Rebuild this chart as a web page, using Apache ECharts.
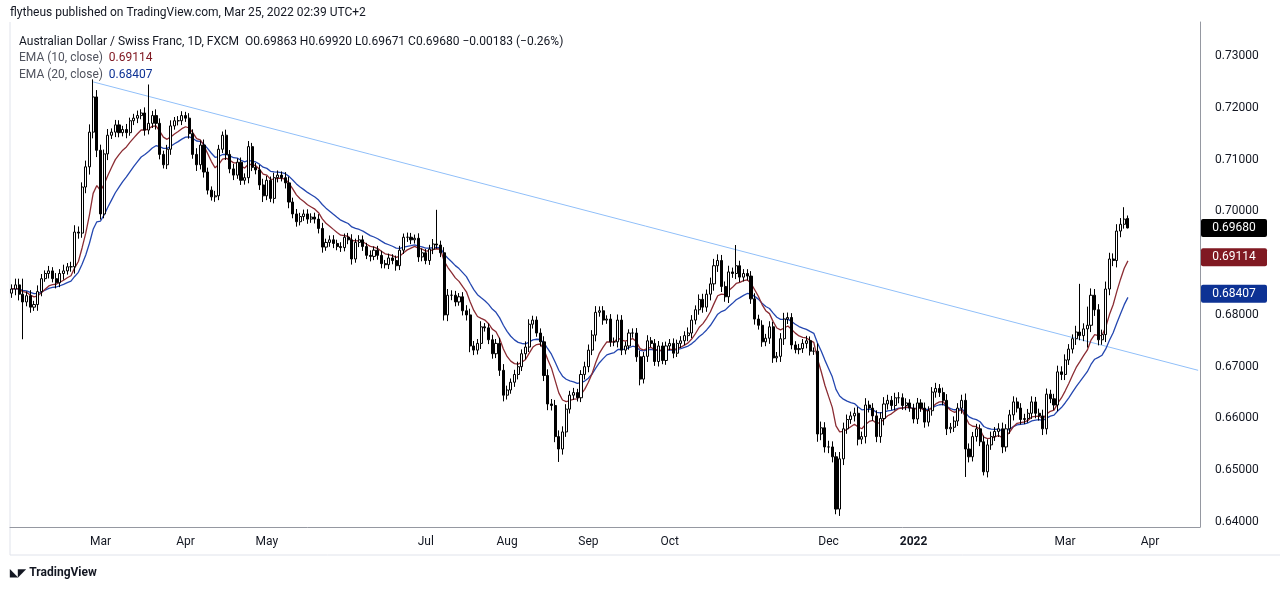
<!DOCTYPE html>
<html><head><meta charset="utf-8">
<script src="https://cdn.jsdelivr.net/npm/echarts@6/dist/echarts.min.js"></script>
<style>html,body{margin:0;padding:0;background:#fff}#c{width:1280px;height:590px}</style>
</head><body><div id="c"></div>
<script>
// ---- data ----
const cJan21=[0.6850,0.6858,0.6840,0.6825];
const cFeb21=[0.6837,0.6815,0.6820,0.6845,0.6870,0.6880,0.6885,0.6870,0.6862,0.6880,0.6885,0.6893,0.6893,0.6960,0.6958,0.7047,0.7086,0.7153,0.7221,0.7118];
const cMar21=[0.6995,0.7111,0.7147,0.7153,0.7167,0.7152,0.7158,0.7152,0.7175,0.7180,0.7185,0.7190,0.7157,0.7170,0.7185,0.7170,0.7110,0.7090,0.7120,0.7165,0.7175,0.7175,0.7185];
const cApr21=[0.7180,0.7150,0.7110,0.7090,0.7128,0.7076,0.7041,0.7028,0.7030,0.7120,0.7147,0.7110,0.7082,0.7070,0.7095,0.7060,0.7065,0.7125,0.7085,0.7080,0.7051,0.7030];
const cMay21=[0.7060,0.7025,0.7065,0.7070,0.7065,0.7055,0.7018,0.6995,0.6980,0.6990,0.6995,0.6985,0.6989,0.6985,0.6967,0.6931,0.6940,0.6945,0.6938,0.6932,0.6930];
const cJun21=[0.6950,0.6945,0.6908,0.6940,0.6945,0.6932,0.6915,0.6913,0.6925,0.6915,0.6899,0.6897,0.6910,0.6905,0.6895,0.6925,0.6950,0.6950,0.6945,0.6948,0.6912,0.6920];
const cJul21=[0.6905,0.6927,0.6937,0.6935,0.6920,0.6800,0.6838,0.6838,0.6825,0.6835,0.6808,0.6800,0.6740,0.6732,0.6745,0.6777,0.6775,0.6752,0.6725,0.6745,0.6693,0.6645];
const cAug21=[0.6655,0.6670,0.6685,0.6700,0.6725,0.6738,0.6782,0.6790,0.6765,0.6748,0.6683,0.6628,0.6625,0.6565,0.6541,0.6574,0.6618,0.6645,0.6650,0.6640,0.6685,0.6700];
const cSep21=[0.6732,0.6761,0.6805,0.6808,0.6790,0.6792,0.6748,0.6748,0.6790,0.6732,0.6740,0.6765,0.6765,0.6719,0.6676,0.6720,0.6750,0.6745,0.6710,0.6740,0.6712,0.6740];
const cOct21=[0.6745,0.6726,0.6745,0.6750,0.6760,0.6765,0.6790,0.6810,0.6830,0.6815,0.6840,0.6860,0.6895,0.6905,0.6855,0.6835,0.6883,0.6880,0.6895,0.6873,0.6880];
const cNov21=[0.6875,0.6831,0.6792,0.6780,0.6748,0.6755,0.6777,0.6717,0.6720,0.6754,0.6792,0.6795,0.6742,0.6733,0.6735,0.6745,0.6750,0.6730,0.6730,0.6570,0.6582,0.6545];
const cDec21=[0.6545,0.6526,0.6425,0.6522,0.6580,0.6598,0.6605,0.6610,0.6560,0.6565,0.6626,0.6620,0.6605,0.6565,0.6600,0.6628,0.6635,0.6625,0.6640,0.6640,0.6625,0.6630,0.6620];
const cJan22=[0.6599,0.6630,0.6620,0.6593,0.6615,0.6651,0.6658,0.6650,0.6635,0.6580,0.6583,0.6595,0.6620,0.6635,0.6541,0.6526,0.6565,0.6580,0.6555,0.6497,0.6549];
const cFeb22=[0.6565,0.6575,0.6580,0.6545,0.6580,0.6607,0.6632,0.6620,0.6598,0.6600,0.6610,0.6632,0.6610,0.6605,0.6580,0.6647,0.6638,0.6626,0.6690,0.6685];
const cMar22=[0.6713,0.6734,0.6754,0.6767,0.6760,0.6773,0.6780,0.6838,0.6810,0.6752,0.6762,0.6850,0.6908,0.6905,0.6962,0.6975,0.6985,0.6968];
// wick lengths in pips
const wJan21=[15,20,20,12];
const wFeb21=[14,18,12,20,15,10,16,12,18,14,20,12,16,22,18,15,20,25,20,22];
const wMar21=[18,14,20,12,16,15,12,18,10,14,16,12,18,14,15,20,16,12,14,18,12,15,14];
const wApr21=[12,16,14,20,15,18,14,12,16,14,12,18,14,16,12,15,14,18,12,14,16,20];
const wMay21=[14,12,16,15,12,18,20,14,16,12,14,15,12,14,16,18,12,14,15,12,14];
const wJun21=[12,14,18,12,15,14,12,16,12,14,15,12,14,12,16,14,12,15,14,12,16,14];
const wJul21=[12,14,16,12,14,18,20,16,14,12,15,18,20,16,14,18,12,14,16,14,18,20];
const wAug21=[14,12,15,16,14,18,16,14,12,15,18,20,16,18,20,18,16,14,15,12,14,16];
const wSep21=[18,16,20,14,15,12,16,14,18,16,14,12,15,16,20,14,18,12,14,16,12,14];
const wOct21=[14,16,12,15,14,18,16,14,16,18,15,20,22,20,18,16,20,14,18,16,14];
const wNov21=[14,16,18,14,16,14,18,16,14,18,20,16,14,12,15,14,16,14,12,25,20,18];
const wDec21=[20,18,15,22,20,16,14,18,20,16,22,14,16,18,20,22,18,14,16,18,14,15,12];
const wJan22=[14,16,12,18,14,16,18,14,16,20,14,15,16,18,22,18,15,16,14,20,18];
const wFeb22=[16,14,18,20,15,16,18,14,16,15,14,18,16,15,20,18,14,16,20,18];
const wMar22=[18,16,14,20,15,18,60,22,20,18,16,24,20,18,22,20,14,10];
const highOverrides=[[3,0.6870],[22,0.7255],[37,0.7245],[115,0.7003],[196,0.6935],[289,0.6860],[301,0.7008],[302,0.6992]];
const lowOverrides=[[3,0.6753],[148,0.6516],[223,0.6415],[258,0.6487],[263,0.6490],[302,0.69671]];
const lastOpen=0.69863;
const trendLine=[[22,0.7250],[321,0.6693]];
const yTicks=[0.64,0.65,0.66,0.67,0.68,0.69,0.70,0.71,0.72,0.73];
const monthNames=['Jan','Feb','Mar','Apr','May','Jun','Jul','Aug','Sep','Oct','Nov','Dec'];
const hiddenMonths=['2021-02','2021-06','2021-11','2022-02'];
const startDate='2021-01-26', totalSlots=322;
const emaLabels={ema10:'0.69114',ema20:'0.68407',last:'0.69680'};

// ---- build ----
const closes=[].concat(cJan21,cFeb21,cMar21,cApr21,cMay21,cJun21,cJul21,cAug21,cSep21,cOct21,cNov21,cDec21,cJan22,cFeb22,cMar22);
const wicks=[].concat(wJan21,wFeb21,wMar21,wApr21,wMay21,wJun21,wJul21,wAug21,wSep21,wOct21,wNov21,wDec21,wJan22,wFeb22,wMar22);
const dates=[];{let d=new Date(startDate+'T12:00:00Z');while(dates.length<totalSlots){const w=d.getUTCDay();if(w!==0&&w!==6)dates.push(d.toISOString().slice(0,10));d.setUTCDate(d.getUTCDate()+1);}}
const hiO=Object.fromEntries(highOverrides), loO=Object.fromEntries(lowOverrides);
const ohlc=closes.map((c,i)=>{
  let o=i===0?c-0.0008:closes[i-1]; if(i===closes.length-1)o=lastOpen;
  const w=wicks[i]/10000;
  const h=hiO[i]!==undefined?hiO[i]:Math.max(o,c)+w*0.6;
  const l=loO[i]!==undefined?loO[i]:Math.min(o,c)-w*0.6;
  return [o,c,l,h];
});
function ema(n){const k=2/(n+1);let e=closes[0];return closes.map((c,i)=>{e=i===0?c:c*k+e*(1-k);return +e.toFixed(5);});}
const e10=ema(10), e20=ema(20);
const labelIdx={};
dates.forEach((d,i)=>{const m=d.slice(0,7);if(i>0&&dates[i-1].slice(0,7)!==m&&!hiddenMonths.includes(m))labelIdx[i]=true;});

const chart=echarts.init(document.getElementById('c'));
const C_RED='#801922', C_BLUE='#0d3294';
chart.setOption({
  animation:false,
  grid:{left:10,right:80,top:22,bottom:63},
  xAxis:{type:'category',data:dates,boundaryGap:true,
    axisLine:{lineStyle:{color:'#9598a1'}},axisTick:{show:false},
    axisLabel:{interval:(i)=>!!labelIdx[i],margin:9,color:'#131722',fontFamily:'Roboto',fontSize:12,
      formatter:(v)=>{const m=+v.slice(5,7);return m===1?'{b|'+v.slice(0,4)+'}':monthNames[m-1];},
      rich:{b:{fontWeight:'bold',fontSize:12,color:'#131722',fontFamily:'Roboto'}}},
    splitLine:{show:false}},
  yAxis:{type:'value',position:'right',min:0.63904,max:0.73657,scale:true,
    axisLine:{show:true,lineStyle:{color:'#9598a1'}},axisTick:{show:false},splitLine:{show:false},
    axisLabel:{customValues:yTicks,formatter:(v)=>v.toFixed(5),color:'#131722',fontFamily:'Roboto',fontSize:12,margin:15}},
  series:[
    {type:'line',data:trendLine.map(p=>[dates[p[0]],p[1]]),symbol:'none',lineStyle:{color:'#90bff9',width:1},z:1},
    {type:'line',data:e20,symbol:'none',lineStyle:{color:'#2447b0',width:1.3},z:2},
    {type:'line',data:e10,symbol:'none',lineStyle:{color:'#8b2c33',width:1.3},z:2},
    {type:'candlestick',data:ohlc,barWidth:2.6,z:3,
      itemStyle:{color:'#ffffff',color0:'#000000',borderColor:'#000000',borderColor0:'#000000',borderWidth:1}}
  ]
});
function tag(val,txt,bg){const y=chart.convertToPixel({yAxisIndex:0},val);
  return {type:'group',z:100,children:[
    {type:'rect',z:100,shape:{x:1201,y:y-9,width:66,height:18,r:2},style:{fill:bg}},
    {type:'text',z:101,style:{x:1234,y:y,text:txt,fill:'#fff',font:'12px Roboto',align:'center',verticalAlign:'middle'}}]};}
const T='#131722';
chart.setOption({graphic:[
  {type:'text',style:{x:10,y:13,text:'flytheus published on TradingView.com, Mar 25, 2022 02:39 UTC+2',fill:T,font:'12px Roboto',verticalAlign:'middle'}},
  {type:'text',style:{x:19,y:42,text:'{a|Australian Dollar / Swiss Franc, 1D, FXCM  }{a|O}{v|0.69863 }{a|H}{v|0.69920 }{a|L}{v|0.69671 }{a|C}{v|0.69680 }{v|−0.00183 (−0.26%)}',
    rich:{a:{fill:T,font:'12px Roboto'},v:{fill:T,font:'12px Roboto'}},verticalAlign:'middle'}},
  {type:'text',style:{x:19,y:58,text:'{a|EMA (10, close)  }{r|'+emaLabels.ema10+'}',rich:{a:{fill:'#50535e',font:'12px Roboto'},r:{fill:C_RED,font:'12px Roboto'}},verticalAlign:'middle'}},
  {type:'text',style:{x:19,y:75,text:'{a|EMA (20, close)  }{r|'+emaLabels.ema20+'}',rich:{a:{fill:'#50535e',font:'12px Roboto'},r:{fill:C_BLUE,font:'12px Roboto'}},verticalAlign:'middle'}},
  tag(0.69680,emaLabels.last,'#000000'),
  tag(0.69114,emaLabels.ema10,C_RED),
  tag(0.68407,emaLabels.ema20,C_BLUE),
  {type:'line',shape:{x1:10,y1:555,x2:1280,y2:555},style:{stroke:'#e0e3eb',lineWidth:1}},
  {type:'line',shape:{x1:10,y1:22,x2:10,y2:555},style:{stroke:'#e0e3eb',lineWidth:1}},
  {type:'text',style:{x:10,y:573,text:'{l|◣◤} {t|TradingView}',rich:{l:{fill:T,font:'bold 10px Roboto'},t:{fill:T,font:'bold 12px Roboto'}},verticalAlign:'middle'}}
]});
</script></body></html>
